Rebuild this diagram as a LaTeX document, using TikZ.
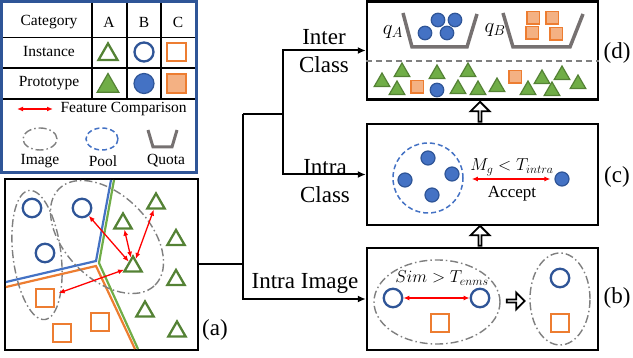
\documentclass[tikz,border=0pt]{standalone}
\usepackage{fontspec}
\setmainfont{Liberation Serif}
\usepackage{tikz}
\usetikzlibrary{arrows.meta}
\usetikzlibrary{shapes.geometric}
\usetikzlibrary{shapes.arrows}
\definecolor{cblue}{RGB}{47,85,151}
\definecolor{cfill}{RGB}{68,114,196}
\definecolor{tgreen}{RGB}{84,130,53}
\definecolor{tfill}{RGB}{112,173,71}
\definecolor{sorange}{RGB}{237,125,49}
\definecolor{sfill}{RGB}{244,177,131}
\definecolor{igray}{RGB}{127,127,127}
\definecolor{qgray}{RGB}{118,113,113}
\tikzset{l/.style={font=\fontsize{15.5}{16}\selectfont}}
\tikzset{m/.style={font=\fontsize{23}{28}\selectfont}}
\tikzset{s/.style={font=\fontsize{17}{17}\selectfont}}
\tikzset{ci/.style={circle, draw=cblue, line width=2.3pt, inner sep=0pt, minimum size=18.5pt}}
\tikzset{cp/.style={circle, draw=cblue, fill=cfill, line width=1.2pt, inner sep=0pt, minimum size=20pt}}
\tikzset{ti/.style={regular polygon, regular polygon sides=3, draw=tgreen, line width=2.3pt, inner sep=0pt, minimum size=20pt}}
\tikzset{tp/.style={regular polygon, regular polygon sides=3, draw=tgreen, fill=tfill, line width=1.2pt, inner sep=0pt, minimum size=25pt}}
\tikzset{si/.style={rectangle, draw=sorange, line width=2.3pt, inner sep=0pt, minimum size=17.5pt}}
\tikzset{sp/.style={rectangle, draw=sorange, fill=sfill, line width=1.8pt, inner sep=0pt, minimum size=19pt}}
\tikzset{cmp/.style={{Latex[length=6pt,width=5pt]}-{Latex[length=6pt,width=5pt]}, red, line width=1.3pt}}
\tikzset{img/.style={draw=igray, line width=1.4pt, dash pattern=on 8pt off 3pt on 1.5pt off 3pt}}
\tikzset{pool/.style={draw=cfill, line width=1.5pt, dash pattern=on 5pt off 3pt}}
\tikzset{quota/.style={draw=qgray, line width=3.5pt, line join=miter}}
\tikzset{panel/.style={draw, line width=2.4pt, inner sep=0pt, minimum width=231pt}}
\tikzset{conn/.style={line width=2pt, -{Latex[length=8pt,width=7pt]}}}
\tikzset{hollow/.style={single arrow, draw, line width=1.8pt, fill=white, inner sep=0pt, minimum height=20pt, minimum width=19pt, single arrow head extend=5pt}}
\begin{document}
\begin{tikzpicture}[x=1pt, y=-1pt]
  \useasboundingbox (0,0) rectangle (633,358);
  % legend
  \draw [cblue, line width=2.5pt] (1.5,1.5) rectangle (196.5,172.5);
  \draw [line width=1.3pt] (3,37.5) -- (195,37.5) (3,68) -- (195,68) (3,99) -- (195,99);
  \draw [line width=1.3pt] (92,3) -- (92,99) (127,3) -- (127,99) (161,3) -- (161,99);
  \node [l] (cat) at (49,22) {Category};
  \node [l] (hA) at (109,22) {A};
  \node [l] (hB) at (144,22) {B};
  \node [l] (hC) at (178,22) {C};
  \node [l] (inst) at (49,52) {Instance};
  \node [l] (proto) at (49,83) {Prototype};
  \node [ti, minimum size=22pt] (lti) at (108,54.5) {};
  \node [ci, minimum size=19pt] (lci) at (144,52) {};
  \node [si, minimum size=18.5pt] (lsi) at (176.5,52) {};
  \node [tp] (ltp) at (108,86) {};
  \node [cp] (lcp) at (144,83.5) {};
  \node [sp] (lsp) at (176.5,83.5) {};
  \coordinate (la1) at (17,109);
  \coordinate (la2) at (53,109);
  \draw [cmp] (la1) -- (la2);
  \node [l, anchor=west] (fc) at (57,109) {Feature Comparison};
  \draw [img] (40,139) ellipse (17pt and 11pt);
  \draw [pool] (102,139) ellipse (16pt and 11pt);
  \draw [quota, line width=3pt] (148,130) -- (153,147) -- (172,147) -- (177,130);
  \node [l] (limg) at (40,161) {Image};
  \node [l] (lpool) at (103,161) {Pool};
  \node [l] (lquota) at (166,161) {Quota};
  % panel (a)
  \node [panel, minimum width=193pt, minimum height=171pt] (pa) at (101.5,264.5) {};
  \draw [cfill, line width=2.2pt] (6,282) -- (96,261) -- (111,180);
  \draw [sorange, line width=2.2pt] (6,287) -- (96,266) -- (135,349);
  \draw [tfill, line width=2.2pt] (114,180) -- (99,263) -- (138,349);
  \draw [img, rotate around={7:(37,255)}] (37,255) ellipse (24pt and 65pt);
  \draw [img, rotate around={-45:(107,237)}] (107,237) ellipse (68pt and 42pt);
  \node [ci] (c1) at (32,208) {};
  \node [ci] (c2) at (82,208) {};
  \node [ci] (c3) at (45,253) {};
  \node [si] (s1) at (45,298) {};
  \node [si] (s2) at (62,333) {};
  \node [si] (s3) at (100,322) {};
  \node [ti] (t1) at (123,223.5) {};
  \node [ti] (t2) at (156,203.5) {};
  \node [ti] (t3) at (133,266.5) {};
  \node [ti] (t4) at (176,240) {};
  \node [ti] (t5) at (176,280) {};
  \node [ti] (t6) at (145,311.5) {};
  \node [ti] (t7) at (177,331.5) {};
  \draw [cmp] (c2) -- (t3);
  \draw [cmp] (t1) -- (t3);
  \draw [cmp] (t2) -- (t3);
  \draw [cmp, shorten >=4pt] (t3) -- (s1);
  \node [m] (la) at (215,330) {(a)};
  % panels (b) (c) (d)
  \node [panel, minimum height=98pt] (pd) at (482.5,50.5) {};
  \node [panel, minimum height=101pt] (pc) at (482.5,174.5) {};
  \node [panel, minimum height=102pt] (pb) at (482.5,299) {};
  \node [m] (ld) at (617,53) {(d)};
  \node [m] (lc) at (617,177) {(c)};
  \node [m] (lb) at (617,298) {(b)};
  % connectors
  \coordinate (j1) at (243,114);
  \coordinate (j2) at (283,114);
  \draw [line width=2pt] (pa.east) -- (pa.east -| j1);
  \draw [line width=2pt] (j1) -- (j2);
  \draw [conn] (j1) |- (pb.west);
  \draw [conn] (j2) |- (pd.west);
  \draw [conn] (j2) |- (pc.west);
  \node [m, align=center] (inter) at (324,51) {Inter\\Class};
  \node [m, align=center] (intra) at (325,181) {Intra\\Class};
  \node [m] (intraimg) at (305,283) {Intra Image};
  \node [hollow, shape border rotate=90] (up1) at (480,112.5) {};
  \node [hollow, shape border rotate=90] (up2) at (480,236.5) {};
  % (d)
  \draw [igray, line width=1.5pt, dash pattern=on 6pt off 4pt] (pd.west |- 0,61) -- (pd.east |- 0,61);
  \draw [quota] (403,13) -- (412,47) -- (467,47) -- (477,14);
  \draw [quota] (503,13) -- (513,47) -- (570,47) -- (583,14);
  \node [font=\fontsize{20}{20}\selectfont] (qa) at (393,32) {$q_A$};
  \node [font=\fontsize{20}{20}\selectfont] (qb) at (495,30) {$q_B$};
  \node [cp, minimum size=13.5pt] (qc1) at (425,33) {};
  \node [cp, minimum size=13.5pt] (qc2) at (438,20) {};
  \node [cp, minimum size=13.5pt] (qc3) at (455,20) {};
  \node [cp, minimum size=13.5pt] (qc4) at (447,33) {};
  \node [sp, minimum size=12.5pt, line width=1.5pt] (qs1) at (533,18) {};
  \node [sp, minimum size=12.5pt, line width=1.5pt] (qs2) at (552,18) {};
  \node [sp, minimum size=12.5pt, line width=1.5pt] (qs3) at (532,33) {};
  \node [sp, minimum size=12.5pt, line width=1.5pt] (qs4) at (556,34) {};
  \foreach \x/\y [count=\i] in {382/82, 402/72, 397/90, 437/74, 468/72, 458/89, 478/90, 497/87, 528/90, 542/79, 562/75, 552/91, 578/84}
    \node [tp, minimum size=18pt] (dt\i) at (\x,\y) {};
  \node [sp, minimum size=12.5pt, line width=1.5pt] (ds1) at (417,87) {};
  \node [sp, minimum size=12.5pt, line width=1.5pt] (ds2) at (515,77) {};
  \node [cp, minimum size=13.5pt] (dc1) at (437,90) {};
  % (c)
  \node [circle, pool, minimum size=70pt, inner sep=0pt] (pl) at (428,178) {};
  \node [cp, minimum size=14pt] (p1) at (428,158) {};
  \node [cp, minimum size=14pt] (p2) at (405,180) {};
  \node [cp, minimum size=14pt] (p3) at (452,174) {};
  \node [cp, minimum size=14pt] (p4) at (432,195) {};
  \node [cp, minimum size=14pt] (p5) at (562,179) {};
  \draw [cmp, shorten <=8pt, shorten >=4pt] (pl.east |- p5) -- (p5);
  \node [s] (mg) at (512,167) {$M_g < T_{intra}$};
  \node [s] (acc) at (512,194) {Accept};
  % (b)
  \draw [img] (437,302) ellipse (63pt and 42pt);
  \draw [img] (560,299) ellipse (30pt and 46pt);
  \node [ci] (b1) at (393,298) {};
  \node [ci] (b2) at (480,298) {};
  \node [si] (b3) at (440,323) {};
  \node [ci] (b4) at (560,278) {};
  \node [si] (b5) at (560,323) {};
  \draw [cmp] (b1) -- (b2);
  \node [s, font=\fontsize{18}{18}\selectfont] (sim) at (442,278) {$Sim > T_{enms}$};
  \node [hollow, minimum height=18pt, minimum width=17pt, single arrow head extend=4.5pt] (rt) at (515,301) {};
\end{tikzpicture}
\end{document}
